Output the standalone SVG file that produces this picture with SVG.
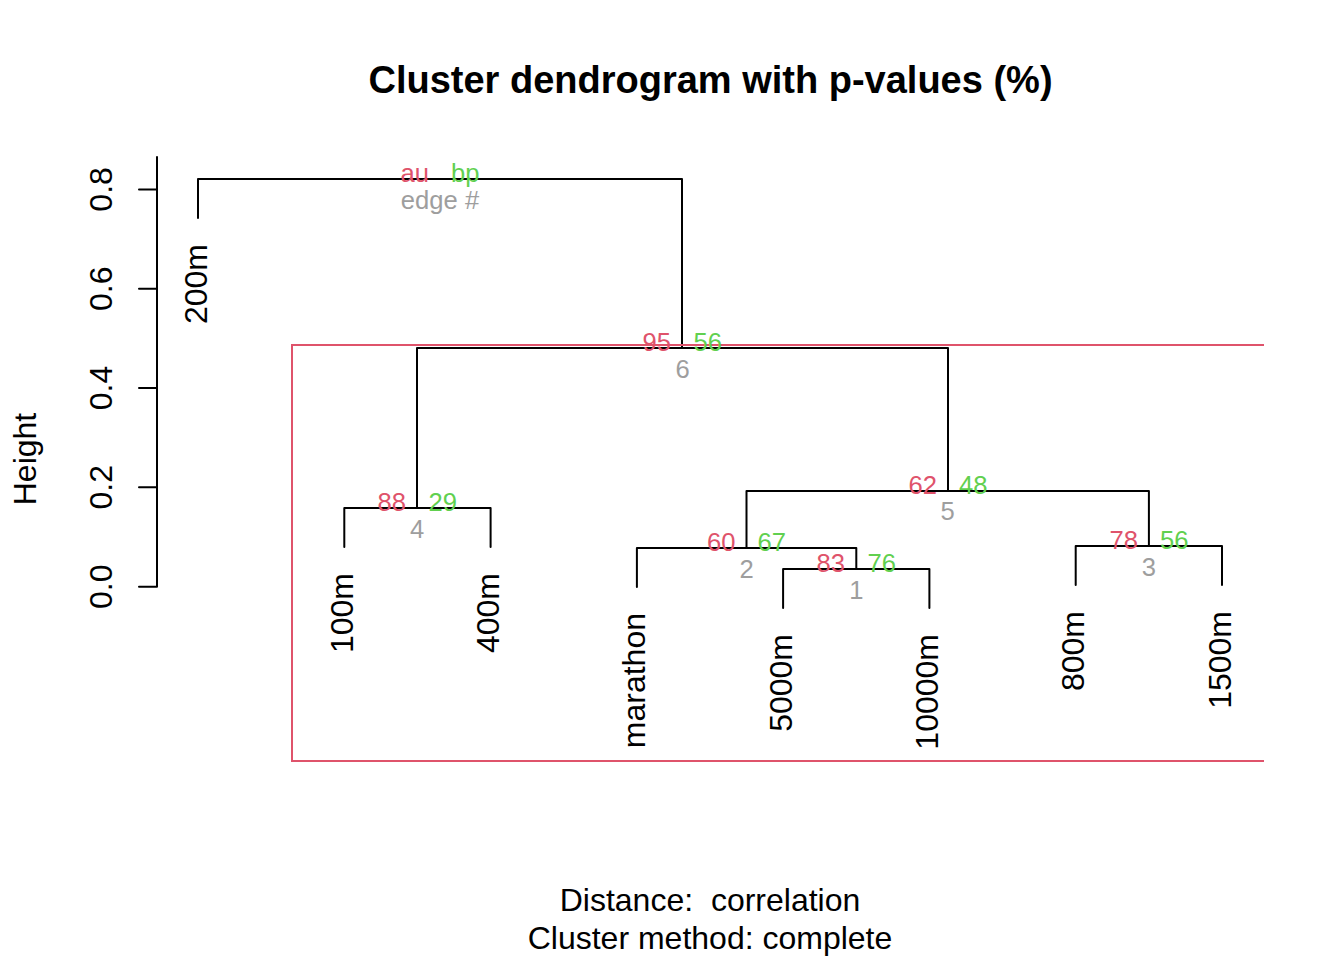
<svg xmlns="http://www.w3.org/2000/svg" width="1344" height="960" viewBox="0 0 1344 960">
<style>
text{font-family:"Liberation Sans",Arial,sans-serif;font-size:32px;fill:#000}
.t{font-size:38px;font-weight:bold}
.pv{font-size:25.6px}
.au{fill:#DF536B;text-anchor:end}
.bp{fill:#61D04F;text-anchor:start}
.ed{fill:#9E9E9E;text-anchor:middle}
.lf{text-anchor:end}
.mid{text-anchor:middle}
.ln{fill:none;stroke:#000;stroke-width:2;stroke-linecap:round;stroke-linejoin:round}
.rc{fill:none;stroke:#DF536B;stroke-width:2}
</style>
<rect width="1344" height="960" fill="#fff"/>
<text class="t mid" x="710.5" y="92.5">Cluster dendrogram with p-values (%)</text>
<text class="mid" x="710" y="911" xml:space="preserve" style="white-space:pre">Distance:  correlation</text>
<text class="mid" x="710" y="949">Cluster method: complete</text>
<g id="axis">
<path class="ln" d="M157,586.7V157M139,586.7H157M139,487.3H157M139,388H157M139,288.7H157M139,189.4H157"/>
<text class="mid" transform="translate(112,586.7) rotate(-90)">0.0</text>
<text class="mid" transform="translate(112,487.3) rotate(-90)">0.2</text>
<text class="mid" transform="translate(112,388) rotate(-90)">0.4</text>
<text class="mid" transform="translate(112,288.7) rotate(-90)">0.6</text>
<text class="mid" transform="translate(112,189.4) rotate(-90)">0.8</text>
<text class="mid" transform="translate(36,459) rotate(-90)">Height</text>
</g>
<g id="connectors">
<path class="ln" d="M198,218V179H682V348"/>
<path class="ln" d="M417,508V348H948V491"/>
<path class="ln" d="M344.3,547V508H490.6V547"/>
<path class="ln" d="M746.5,548V491H1148.9V546"/>
<path class="ln" d="M636.9,587V548H856.3V569"/>
<path class="ln" d="M783.1,608V569H929.4V608"/>
<path class="ln" d="M1075.7,585V546H1222V585"/>
</g>
<g id="cluster-rect">
<path class="rc" d="M1264,345H292V761H1264"/>
</g>
<g id="leaves">
<text class="lf" transform="translate(206.5,244) rotate(-90)">200m</text>
<text class="lf" transform="translate(352.8,573) rotate(-90)">100m</text>
<text class="lf" transform="translate(499.1,573) rotate(-90)">400m</text>
<text class="lf" transform="translate(645.4,613) rotate(-90)">marathon</text>
<text class="lf" transform="translate(791.6,634) rotate(-90)">5000m</text>
<text class="lf" transform="translate(937.9,634) rotate(-90)">10000m</text>
<text class="lf" transform="translate(1084.2,611) rotate(-90)">800m</text>
<text class="lf" transform="translate(1230.5,611) rotate(-90)">1500m</text>
</g>
<g id="node-root">
<text class="pv au" x="429" y="181.8">au</text>
<text class="pv bp" x="451" y="181.8">bp</text>
<text class="pv ed" x="440" y="208.5">edge #</text>
</g>
<g id="node-6">
<text class="pv au" x="671" y="350.8">95</text>
<text class="pv bp" x="693.5" y="350.8">56</text>
<text class="pv ed" x="682.5" y="377.5">6</text>
</g>
<g id="node-4">
<text class="pv au" x="406" y="510.8">88</text>
<text class="pv bp" x="428.5" y="510.8">29</text>
<text class="pv ed" x="417" y="537.5">4</text>
</g>
<g id="node-5">
<text class="pv au" x="937" y="493.8">62</text>
<text class="pv bp" x="959" y="493.8">48</text>
<text class="pv ed" x="947.7" y="520">5</text>
</g>
<g id="node-2">
<text class="pv au" x="735.5" y="550.8">60</text>
<text class="pv bp" x="757.5" y="550.8">67</text>
<text class="pv ed" x="746.5" y="577.5">2</text>
</g>
<g id="node-1">
<text class="pv au" x="845" y="571.8">83</text>
<text class="pv bp" x="867.5" y="571.8">76</text>
<text class="pv ed" x="856.3" y="598.5">1</text>
</g>
<g id="node-3">
<text class="pv au" x="1138" y="548.8">78</text>
<text class="pv bp" x="1160" y="548.8">56</text>
<text class="pv ed" x="1148.9" y="575.5">3</text>
</g>
</svg>
